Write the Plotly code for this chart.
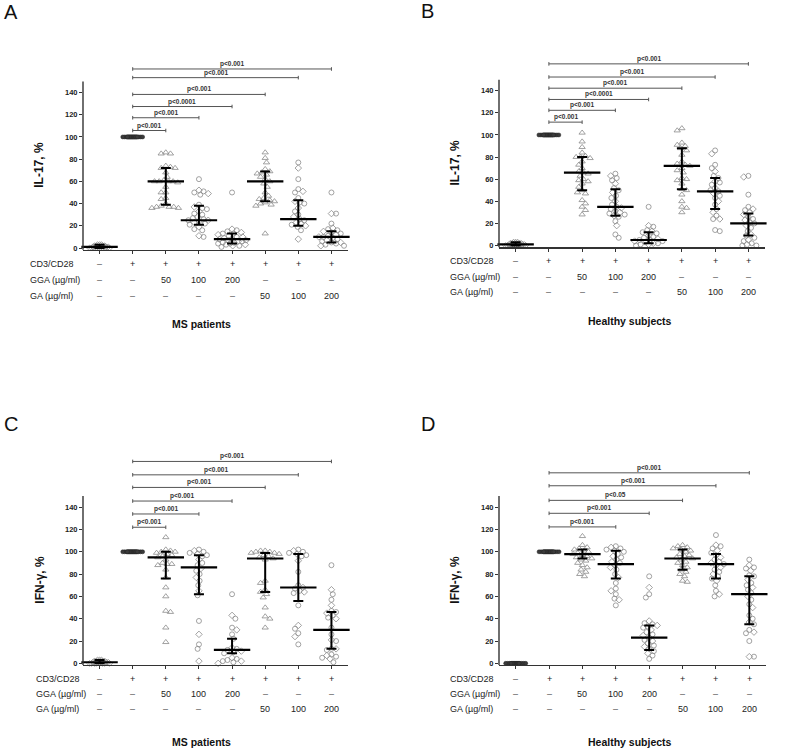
import plotly.graph_objects as go

W, H = 790, 755
FONT = "Arial, 'Liberation Sans', sans-serif"

# ---------------- categories / row labels ----------------
categories = [1, 2, 3, 4, 5, 6, 7, 8]
row_names = ["CD3/CD28", "GGA (µg/ml)", "GA (µg/ml)"]
row_cd3 = ["–", "+", "+", "+", "+", "+", "+", "+"]
row_gga = ["–", "–", "50", "100", "200", "–", "–", "–"]
row_ga = ["–", "–", "–", "–", "–", "50", "100", "200"]
y_ticks = [0, 20, 40, 60, 80, 100, 120, 140]

# ---------------- Panel A: IL-17, MS patients ----------------
A_ctrl = [0, 0, 0, 0, 0, 0, 1, 1, 1, 1, 1, 1, 2, 2, 2, 2, 3, 3, 3, 0]
A_stim = [100] * 22
A_gga50 = [86, 85, 85, 74, 73, 72, 72, 68, 64, 61, 60, 60, 60, 60, 59, 55, 50, 50, 45, 44, 40, 38, 37, 37, 37, 36, 36]
A_gga100 = [62, 52, 51, 50, 49, 48, 39, 37, 36, 35, 33, 31, 30, 28, 27, 26, 25, 25, 24, 23, 22, 21, 19, 17, 16, 11, 10]
A_gga200 = [50, 17, 16, 15, 14, 13, 13, 12, 11, 10, 10, 9, 8, 8, 7, 7, 6, 6, 5, 5, 4, 4, 3, 3, 2, 2, 1]
A_ga50 = [86, 81, 77, 71, 69, 68, 67, 66, 64, 62, 60, 58, 55, 50, 47, 45, 44, 43, 42, 41, 40, 39, 38, 13]
A_ga100 = [77, 72, 62, 53, 51, 50, 45, 42, 41, 40, 36, 33, 30, 28, 26, 25, 23, 22, 21, 20, 19, 16, 8]
A_ga200 = [50, 31, 31, 22, 18, 17, 16, 15, 14, 13, 12, 11, 10, 10, 9, 8, 7, 6, 5, 5, 4, 3, 2, 2]
A_med = [1, None, 60, 25, 8, 60, 26, 10]
A_q1 = [0, None, 39, 21, 4, 42, 20, 5]
A_q3 = [3, None, 72, 38, 13, 69, 43, 15]
A_brk_end = [3, 4, 5, 6, 7, 8]
A_brk_y = [105.8, 117.3, 127.4, 138.3, 153.4, 161.2]
A_brk_p = ["p<0.001", "p<0.001", "p<0.0001", "p<0.001", "p<0.001", "p<0.001"]

# ---------------- Panel B: IL-17, healthy subjects ----------------
B_ctrl = [0, 0, 0, 0, 0, 1, 1, 1, 1, 1, 1, 2, 2, 2, 2, 3, 3, 3, 0, 0]
B_stim = [100] * 22
B_gga50 = [102, 94, 89, 84, 81, 80, 80, 79, 76, 73, 70, 67, 66, 65, 63, 60, 59, 58, 56, 53, 50, 48, 47, 41, 38, 35, 32, 28]
B_gga100 = [65, 63, 61, 59, 56, 52, 50, 48, 45, 43, 40, 37, 35, 34, 33, 31, 30, 29, 28, 27, 26, 22, 18, 10, 7]
B_gga200 = [35, 18, 17, 14, 13, 12, 11, 9, 8, 7, 6, 5, 5, 4, 4, 3, 2, 2, 1, 1, 0]
B_ga50 = [106, 104, 93, 91, 90, 88, 86, 82, 76, 74, 73, 72, 70, 68, 66, 61, 60, 59, 56, 51, 50, 46, 40, 35, 34, 30]
B_ga100 = [86, 83, 73, 70, 67, 63, 61, 58, 57, 55, 52, 50, 49, 47, 45, 43, 40, 37, 33, 30, 27, 24, 24, 14, 13]
B_ga200 = [63, 62, 46, 35, 33, 32, 30, 28, 26, 24, 23, 21, 20, 18, 16, 13, 10, 9, 7, 5, 4, 2, 1, 0, 0]
B_med = [1, None, 66, 35, 5, 72, 49, 20]
B_q1 = [0, None, 50, 27, 2, 51, 33, 9]
B_q3 = [3, None, 80, 51, 12, 88, 61, 29]
B_brk_end = [3, 4, 5, 6, 7, 8]
B_brk_y = [111.6, 122.3, 132.1, 142.3, 152.4, 164.3]
B_brk_p = ["p<0.001", "p<0.001", "p<0.0001", "p<0.001", "p<0.001", "p<0.001"]

# ---------------- Panel C: IFN-gamma, MS patients ----------------
C_ctrl = [0, 0, 0, 0, 0, 1, 1, 1, 1, 1, 2, 2, 2, 3, 3, 3, 0, 1, 2, 0]
C_stim = [100] * 22
C_gga50 = [113, 102, 101, 100, 100, 99, 98, 97, 96, 95, 93, 90, 89, 89, 88, 84, 77, 68, 60, 47, 46, 32, 19]
C_gga100 = [102, 101, 100, 99, 98, 97, 96, 93, 90, 88, 85, 83, 80, 77, 74, 70, 65, 61, 38, 26, 17, 13, 2]
C_gga200 = [62, 43, 40, 32, 30, 26, 22, 14, 13, 12, 11, 10, 9, 5, 4, 3, 2, 2, 1, 0]
C_ga50 = [101, 101, 100, 100, 99, 99, 98, 97, 96, 95, 94, 93, 74, 72, 66, 64, 62, 59, 50, 42, 40, 32]
C_ga100 = [102, 101, 100, 99, 98, 97, 96, 92, 82, 70, 68, 67, 65, 64, 63, 52, 34, 31, 27, 24, 17]
C_ga200 = [88, 66, 62, 57, 52, 47, 46, 45, 43, 41, 40, 32, 26, 21, 20, 13, 13, 12, 8, 7, 6, 5, 4, 1]
C_med = [1, None, 95, 86, 12, 94, 68, 30]
C_q1 = [0, None, 76, 62, 9, 64, 56, 13]
C_q3 = [3, None, 100, 97, 22, 99, 98, 46]
C_brk_end = [3, 4, 5, 6, 7, 8]
C_brk_y = [122.0, 133.9, 145.5, 157.7, 169.0, 181.0]
C_brk_p = ["p<0.001"] * 6

# ---------------- Panel D: IFN-gamma, healthy subjects ----------------
D_ctrl = [0] * 20
D_stim = [100] * 22
D_gga50 = [114, 106, 104, 103, 102, 101, 100, 99, 98, 97, 96, 95, 94, 93, 92, 90, 88, 86, 84, 82, 80, 78]
D_gga100 = [105, 104, 103, 102, 101, 100, 98, 96, 95, 93, 91, 90, 88, 86, 84, 80, 77, 72, 67, 65, 62, 58, 57, 52]
D_gga200 = [78, 68, 62, 59, 38, 36, 35, 34, 33, 32, 30, 28, 26, 25, 23, 21, 20, 18, 16, 15, 13, 11, 9, 7, 4]
D_ga50 = [106, 105, 104, 103, 102, 101, 100, 98, 97, 96, 95, 94, 93, 91, 90, 88, 86, 84, 82, 80, 78, 74, 73]
D_ga100 = [115, 106, 105, 103, 101, 99, 97, 95, 93, 91, 90, 89, 88, 86, 84, 82, 80, 78, 76, 74, 70, 65, 62, 60]
D_ga200 = [93, 88, 86, 85, 83, 79, 78, 75, 72, 70, 68, 66, 63, 60, 57, 53, 50, 43, 40, 37, 35, 30, 28, 27, 20, 6, 6]
D_med = [None, None, 98, 89, 23, 94, 89, 62]
D_q1 = [None, None, 94, 76, 12, 84, 76, 35]
D_q3 = [None, None, 102, 101, 34, 102, 98, 78]
D_brk_end = [4, 5, 6, 7, 8]
D_brk_y = [122.3, 134.5, 146.1, 159.2, 170.8]
D_brk_p = ["p<0.001", "p<0.001", "p<0.05", "p<0.001", "p<0.001"]

# ---------------- geometry (pixels) ----------------
YMIN, YMAX, YAXTOP = -1.5, 190, 150
panels = [
    dict(letter="A", groups=[A_ctrl, A_stim, A_gga50, A_gga100, A_gga200, A_ga50, A_ga100, A_ga200],
         med=A_med, q1=A_q1, q3=A_q3, bend=A_brk_end, by=A_brk_y, bp=A_brk_p,
         ytitle="IL-17, %", title="MS patients",
         left=83, right=348, zero=249, ppu=1.115, rows=[265, 281, 297], title_y=325, title_x=201,
         let_x=2, let_y=12, ytx=39, rlx=28, dark_ctrl=False),
    dict(letter="B", groups=[B_ctrl, B_stim, B_gga50, B_gga100, B_gga200, B_ga50, B_ga100, B_ga200],
         med=B_med, q1=B_q1, q3=B_q3, bend=B_brk_end, by=B_brk_y, bp=B_brk_p,
         ytitle="IL-17, %", title="Healthy subjects",
         left=499, right=765, zero=246.5, ppu=1.11, rows=[262, 278, 293], title_y=322, title_x=630,
         let_x=419, let_y=11, ytx=455, rlx=448, dark_ctrl=False),
    dict(letter="C", groups=[C_ctrl, C_stim, C_gga50, C_gga100, C_gga200, C_ga50, C_ga100, C_ga200],
         med=C_med, q1=C_q1, q3=C_q3, bend=C_brk_end, by=C_brk_y, bp=C_brk_p,
         ytitle="IFN-γ, %", title="MS patients",
         left=83, right=348, zero=666, ppu=1.12, rows=[682, 697, 712], title_y=745, title_x=201,
         let_x=2, let_y=426, ytx=40, rlx=34, dark_ctrl=False),
    dict(letter="D", groups=[D_ctrl, D_stim, D_gga50, D_gga100, D_gga200, D_ga50, D_ga100, D_ga200],
         med=D_med, q1=D_q1, q3=D_q3, bend=D_brk_end, by=D_brk_y, bp=D_brk_p,
         ytitle="IFN-γ, %", title="Healthy subjects",
         left=499, right=766, zero=666, ppu=1.12, rows=[682, 697, 712], title_y=745, title_x=630,
         let_x=419, let_y=426, ytx=455, rlx=448, dark_ctrl=True),
]


def beeswarm(vals, ppx, ppy, md, maxoff):
    """Deterministic horizontal spreading of points (layout only)."""
    placed = []
    xs = [0.0] * len(vals)
    order = sorted(range(len(vals)), key=lambda i: -vals[i])
    step = 0.02
    n = int(round(maxoff / step))
    for k, i in enumerate(order):
        sgn = 1 if k % 2 else -1
        cands = sorted([j * step for j in range(-n, n + 1)], key=lambda o: (abs(o), sgn * o))
        yv = vals[i] * ppy
        best, bestd = 0.0, -1.0
        for o in cands:
            xo = o * ppx
            dmin = min([((xo - a) ** 2 + (yv - b) ** 2) ** 0.5 for a, b in placed], default=1e9)
            if dmin >= md:
                best, bestd = o, dmin
                break
            if dmin > bestd + 0.3:
                best, bestd = o, dmin
        xs[i] = best
        placed.append((best * ppx, yv))
    return xs


fig = go.Figure()
shapes, annotations = [], []
layout_axes = {}

GRAY = "#8a8a8a"
tri_groups = {2, 5}

for k, P in enumerate(panels, start=1):
    xid = "x" if k == 1 else f"x{k}"
    yid = "y" if k == 1 else f"y{k}"
    xkey = "xaxis" if k == 1 else f"xaxis{k}"
    ykey = "yaxis" if k == 1 else f"yaxis{k}"
    ppx = (P["right"] - P["left"]) / 8.0
    ppu = P["ppu"]
    bottom_px = P["zero"] - YMIN * ppu
    top_px = P["zero"] - YMAX * ppu

    layout_axes[xkey] = dict(
        domain=[P["left"] / W, P["right"] / W], range=[0.5, 8.5], anchor=yid,
        showline=True, linecolor="#333", linewidth=1.4, ticks="outside", ticklen=3,
        tickwidth=1, tickcolor="#333", tickvals=categories, showticklabels=False,
        showgrid=False, zeroline=False, fixedrange=True)
    layout_axes[ykey] = dict(
        domain=[1 - bottom_px / H, 1 - top_px / H], range=[YMIN, YMAX], anchor=xid,
        showline=False, ticks="outside", ticklen=3, tickwidth=1, tickcolor="#333",
        tickvals=y_ticks, tickfont=dict(family=FONT, size=7.5, color="#222", weight="bold"),
        showgrid=False, zeroline=False, fixedrange=True)

    # y-axis line (0..150)
    shapes.append(dict(type="line", xref=f"{xid} domain", yref=f"{yid} domain",
                       x0=0, x1=0, y0=0, y1=(YAXTOP - YMIN) / (YMAX - YMIN),
                       line=dict(color="#333", width=1.4)))

    # data points
    for j, vals in enumerate(P["groups"]):
        c = categories[j]
        if j in (0, 1):
            offs = beeswarm(vals, ppx, ppu, 1.6, 0.33)
            if j == 1 or P["dark_ctrl"]:
                mk = dict(symbol="circle", size=4, color="#3a3a3a",
                          line=dict(width=0.5, color="#222"))
            else:
                mk = dict(symbol="diamond-open", size=4.5, color=GRAY, line=dict(width=0.8, color=GRAY))
        else:
            offs = beeswarm(vals, ppx, ppu, 4.6, 0.42)
            if j in tri_groups:
                mk = dict(symbol="triangle-up-open", size=5.5, color=GRAY, line=dict(width=0.8, color=GRAY))
            else:
                syms = ["diamond-open" if (i % 3 == 1) else "circle-open" for i in range(len(vals))]
                mk = dict(symbol=syms, size=5, color=GRAY, line=dict(width=0.8, color=GRAY))
        fig.add_trace(go.Scatter(
            x=[c + o for o in offs], y=vals, mode="markers", marker=mk,
            xaxis=xid, yaxis=yid, cliponaxis=False, showlegend=False, hoverinfo="skip"))

    # median + IQR bars
    mx, my, up, dn = [], [], [], []
    for j, m in enumerate(P["med"]):
        if m is None:
            continue
        mx.append(categories[j])
        my.append(m)
        up.append(P["q3"][j] - m)
        dn.append(m - P["q1"][j])
    fig.add_trace(go.Scatter(
        x=mx, y=my, mode="markers",
        marker=dict(symbol="line-ew", size=26, color="black", line=dict(width=2.2, color="black")),
        error_y=dict(type="data", symmetric=False, array=up, arrayminus=dn,
                     width=5, thickness=2, color="black"),
        xaxis=xid, yaxis=yid, cliponaxis=False, showlegend=False, hoverinfo="skip"))

    # significance brackets
    cap = 1.8 / ppu
    for e, yv, ptxt in zip(P["bend"], P["by"], P["bp"]):
        shapes.append(dict(type="line", xref=xid, yref=yid, x0=2, x1=e, y0=yv, y1=yv,
                           line=dict(color="#555", width=1)))
        for xe in (2, e):
            shapes.append(dict(type="line", xref=xid, yref=yid, x0=xe, x1=xe,
                               y0=yv - cap, y1=yv + cap, line=dict(color="#555", width=1)))
        annotations.append(dict(x=(2 + e) / 2, y=yv, xref=xid, yref=yid, text=ptxt,
                                showarrow=False, xanchor="center", yanchor="bottom", yshift=-1,
                                font=dict(family=FONT, size=6.5, color="#333", weight="bold")))

    # y-axis title
    annotations.append(dict(x=P["ytx"] / W, y=1 - (P["zero"] - 75 * ppu) / H, xref="paper", yref="paper",
                            text=P["ytitle"], textangle=-90, showarrow=False,
                            xanchor="center", yanchor="middle",
                            font=dict(family=FONT, size=12, color="#111", weight="bold")))

    # treatment rows
    for r, (name, vals) in enumerate(zip(row_names, [row_cd3, row_gga, row_ga])):
        ypp = 1 - P["rows"][r] / H
        annotations.append(dict(x=P["rlx"] / W, y=ypp, xref="paper", yref="paper", text=name,
                                showarrow=False, xanchor="left", yanchor="middle",
                                font=dict(family=FONT, size=9, color="#222")))
        for c, v in zip(categories, vals):
            annotations.append(dict(x=c, y=ypp, xref=xid, yref="paper", text=v,
                                    showarrow=False, xanchor="center", yanchor="middle",
                                    font=dict(family=FONT, size=9,
                                              color="#222" if v != "–" else "#555")))

    # group title
    annotations.append(dict(x=P["title_x"] / W, y=1 - P["title_y"] / H, xref="paper", yref="paper",
                            text=P["title"], showarrow=False, xanchor="center", yanchor="middle",
                            font=dict(family=FONT, size=10.5, color="#111", weight="bold")))
    # panel letter
    annotations.append(dict(x=P["let_x"] / W, y=1 - P["let_y"] / H, xref="paper", yref="paper",
                            text=P["letter"], showarrow=False, xanchor="left", yanchor="middle",
                            font=dict(family=FONT, size=20, color="#111")))

fig.update_layout(
    width=W, height=H, margin=dict(l=0, r=0, t=0, b=0),
    paper_bgcolor="white", plot_bgcolor="white", showlegend=False,
    shapes=shapes, annotations=annotations, **layout_axes)

fig.write_html("out.html", config={"displayModeBar": False, "staticPlot": True},
               post_script="document.body.style.margin='0';document.body.style.overflow='hidden';")
